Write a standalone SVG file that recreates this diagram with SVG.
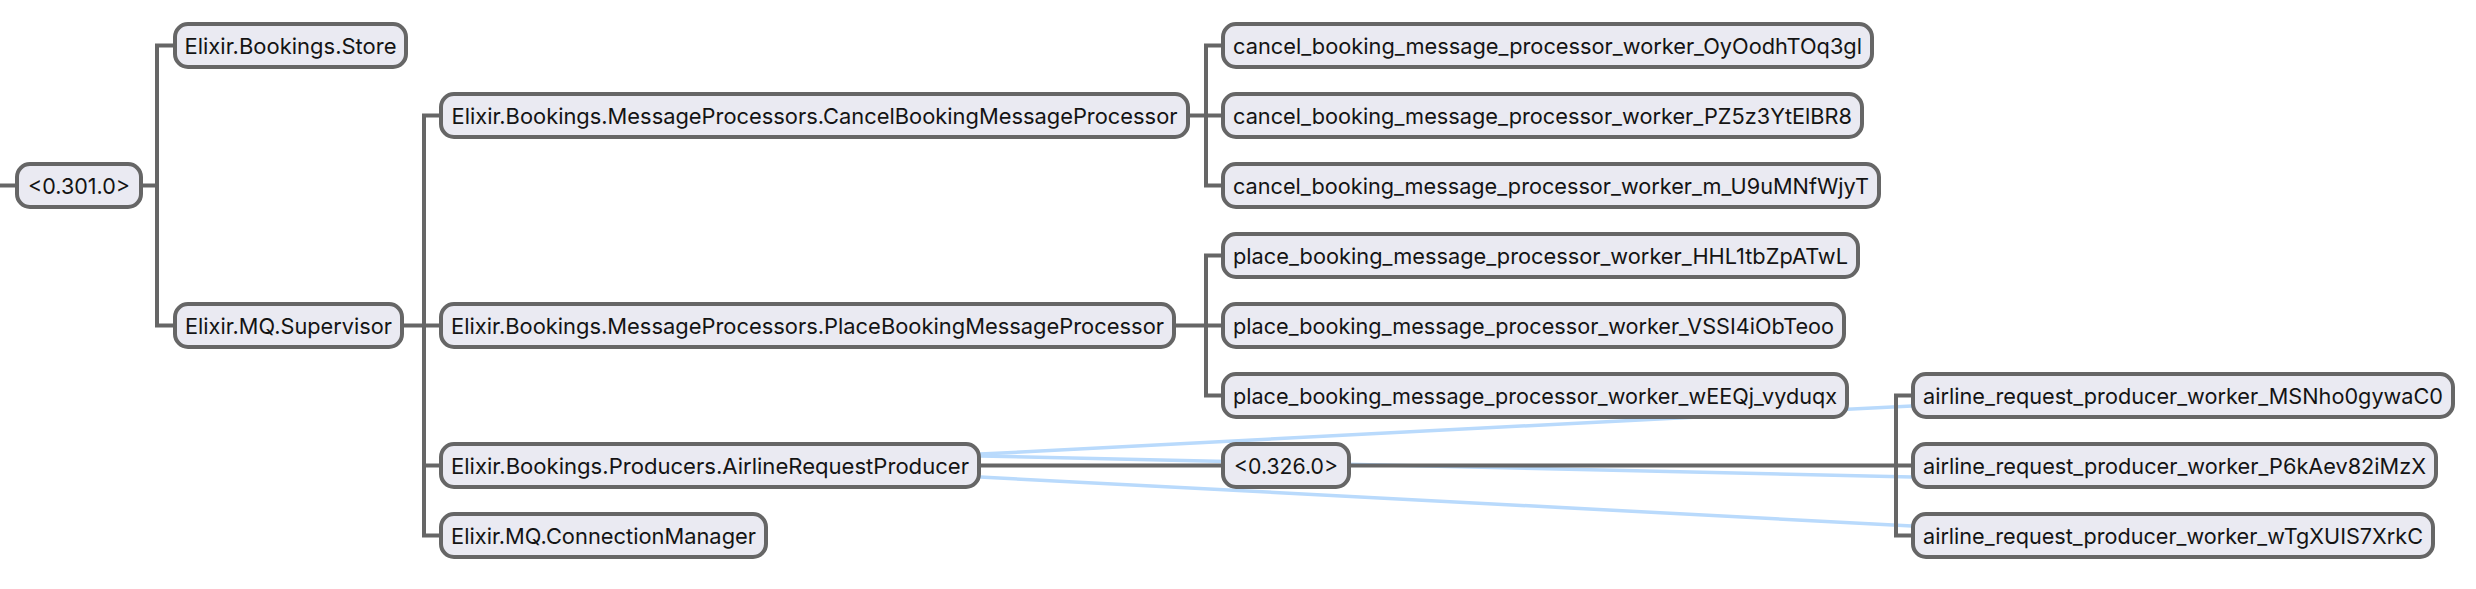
<svg xmlns="http://www.w3.org/2000/svg" width="2476" height="589" viewBox="0 0 2476 589">
<style>
.n rect{fill:#eaeaf2;stroke:#666;stroke-width:4}
.n text{font-family:Inter,"Liberation Sans",sans-serif;font-size:22px;fill:#141414;text-anchor:middle}
.c path{fill:none;stroke:#666;stroke-width:4;stroke-linejoin:miter}
.l path{fill:none;stroke:#b9dafc;stroke-width:3.5}
</style>
<rect width="2476" height="589" fill="#fff"/>
<g id="links" class="l">
<path d="M980 454.1 L1912 405.9"/>
<path d="M980 456 L1912 477"/>
<path d="M980 477 L1912 526"/>
</g>
<g id="connectors" class="c">
<path d="M0 185.5 H15"/>
<path d="M143 185.5 H157"/>
<path d="M173 45.5 H157 V325.5 H173"/>
<path d="M404 325.5 H439"/>
<path d="M439 115.5 H424 V535.5 H439"/>
<path d="M424 465.5 H439"/>
<path d="M1190 115.5 H1221"/>
<path d="M1221 45.5 H1206 V185.5 H1221"/>
<path d="M1176 325.5 H1221"/>
<path d="M1221 255.5 H1206 V395.5 H1221"/>
<path d="M981 465.5 H1221"/>
<path d="M1351 465.5 H1911"/>
<path d="M1911 395.5 H1896 V535.5 H1911"/>
</g>
<g id="root" class="n"><rect x="17" y="164" width="124" height="43" rx="13"/><text x="79" y="193.5" textLength="102" lengthAdjust="spacingAndGlyphs">&lt;0.301.0&gt;</text></g>
<g id="store" class="n"><rect x="175" y="24" width="231" height="43" rx="13"/><text x="290.5" y="53.5" textLength="212" lengthAdjust="spacingAndGlyphs">Elixir.Bookings.Store</text></g>
<g id="supervisor" class="n"><rect x="175" y="304" width="227" height="43" rx="13"/><text x="288.5" y="333.5" textLength="207" lengthAdjust="spacingAndGlyphs">Elixir.MQ.Supervisor</text></g>
<g id="cancel_processor" class="n"><rect x="441" y="94" width="747" height="43" rx="13"/><text x="814.5" y="123.5" textLength="726" lengthAdjust="spacingAndGlyphs">Elixir.Bookings.MessageProcessors.CancelBookingMessageProcessor</text></g>
<g id="place_processor" class="n"><rect x="441" y="304" width="733" height="43" rx="13"/><text x="807.5" y="333.5" textLength="713" lengthAdjust="spacingAndGlyphs">Elixir.Bookings.MessageProcessors.PlaceBookingMessageProcessor</text></g>
<g id="producer" class="n"><rect x="441" y="444" width="538" height="43" rx="13"/><text x="710" y="473.5" textLength="518" lengthAdjust="spacingAndGlyphs">Elixir.Bookings.Producers.AirlineRequestProducer</text></g>
<g id="connection_manager" class="n"><rect x="441" y="514" width="325" height="43" rx="13"/><text x="603.5" y="543.5" textLength="305" lengthAdjust="spacingAndGlyphs">Elixir.MQ.ConnectionManager</text></g>
<g id="cancel_worker_1" class="n"><rect x="1223" y="24" width="649" height="43" rx="13"/><text x="1547.5" y="53.5" textLength="629" lengthAdjust="spacingAndGlyphs">cancel_booking_message_processor_worker_OyOodhTOq3gl</text></g>
<g id="cancel_worker_2" class="n"><rect x="1223" y="94" width="639" height="43" rx="13"/><text x="1542.5" y="123.5" textLength="619" lengthAdjust="spacingAndGlyphs">cancel_booking_message_processor_worker_PZ5z3YtElBR8</text></g>
<g id="cancel_worker_3" class="n"><rect x="1223" y="164" width="656" height="43" rx="13"/><text x="1551" y="193.5" textLength="636" lengthAdjust="spacingAndGlyphs">cancel_booking_message_processor_worker_m_U9uMNfWjyT</text></g>
<g id="place_worker_1" class="n"><rect x="1223" y="234" width="635" height="43" rx="13"/><text x="1540.5" y="263.5" textLength="615" lengthAdjust="spacingAndGlyphs">place_booking_message_processor_worker_HHL1tbZpATwL</text></g>
<g id="place_worker_2" class="n"><rect x="1223" y="304" width="621" height="43" rx="13"/><text x="1533.5" y="333.5" textLength="601" lengthAdjust="spacingAndGlyphs">place_booking_message_processor_worker_VSSI4iObTeoo</text></g>
<g id="place_worker_3" class="n"><rect x="1223" y="374" width="624" height="43" rx="13"/><text x="1535" y="403.5" textLength="604" lengthAdjust="spacingAndGlyphs">place_booking_message_processor_worker_wEEQj_vyduqx</text></g>
<g id="pid_326" class="n"><rect x="1223" y="444" width="126" height="43" rx="13"/><text x="1286" y="473.5" textLength="104" lengthAdjust="spacingAndGlyphs">&lt;0.326.0&gt;</text></g>
<g id="airline_worker_1" class="n"><rect x="1913" y="374" width="540" height="43" rx="13"/><text x="2183" y="403.5" textLength="520" lengthAdjust="spacingAndGlyphs">airline_request_producer_worker_MSNho0gywaC0</text></g>
<g id="airline_worker_2" class="n"><rect x="1913" y="444" width="523" height="43" rx="13"/><text x="2174.5" y="473.5" textLength="503" lengthAdjust="spacingAndGlyphs">airline_request_producer_worker_P6kAev82iMzX</text></g>
<g id="airline_worker_3" class="n"><rect x="1913" y="514" width="520" height="43" rx="13"/><text x="2173" y="543.5" textLength="500" lengthAdjust="spacingAndGlyphs">airline_request_producer_worker_wTgXUIS7XrkC</text></g>
</svg>
